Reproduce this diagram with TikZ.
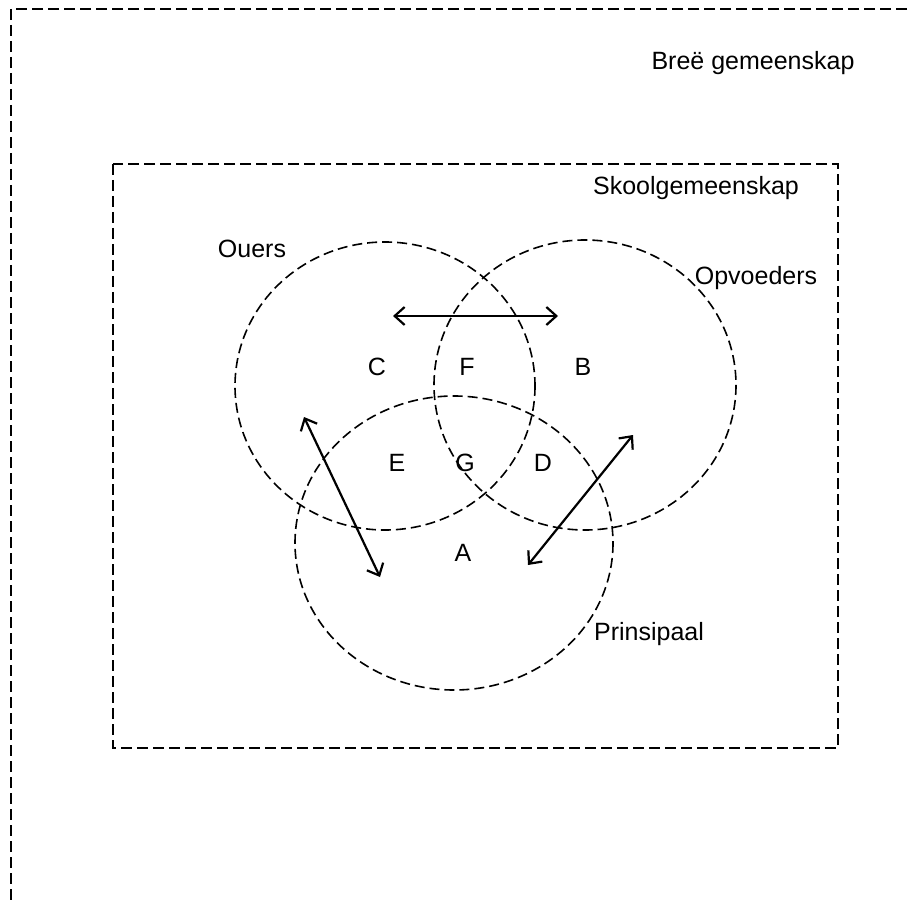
\documentclass[tikz,border=0pt]{standalone}
\usepackage{fontspec}
\setmainfont{Liberation Sans}
\usetikzlibrary{arrows.meta}
\begin{document}
\begin{tikzpicture}[x=1pt,y=-1pt,
  dashbox/.style={draw=black,line width=1.9pt,dash pattern=on 11pt off 5pt},
  venn/.style={draw=black,line width=1.6pt,dash pattern=on 10pt off 5pt},
  lbl/.style={font=\fontsize{25}{30}\selectfont,inner sep=0pt},
  link/.style={line width=2.2pt,{Straight Barb[length=10pt,width=18pt,line width=2.2pt]}-{Straight Barb[length=10pt,width=18pt,line width=2.2pt]}}]
\useasboundingbox (0,0) rectangle (910,901);
\fill[white] (0,0) rectangle (910,901);
% outer box (only top and left edges visible)
\begin{scope}
\clip (0,0) rectangle (910,901);
\draw[dashbox] (11,9) rectangle (930,930);
\end{scope}
% inner box
\draw[dashbox] (113,164) rectangle (838,748);
% circles
\draw[venn] (385,386) ellipse [x radius=150, y radius=144];
\draw[venn] (585,385) ellipse [x radius=151, y radius=145];
\draw[venn] (454,543) ellipse [x radius=159, y radius=147];
% labels
\node[lbl] (bree) at (753,63) {Breë gemeenskap};
\node[lbl] (skool) at (696,188) {Skoolgemeenskap};
\node[lbl] (ouers) at (252,249) {Ouers};
\node[lbl] (opv) at (756,278) {Opvoeders};
\node[lbl] (prin) at (649,634) {Prinsipaal};
\node[lbl] (C) at (377,367) {C};
\node[lbl] (F) at (467,367) {F};
\node[lbl] (B) at (583,367) {B};
\node[lbl] (E) at (397,463) {E};
\node[lbl] (G) at (465,463) {G};
\node[lbl] (D) at (543,463) {D};
\node[lbl] (A) at (463,553) {A};
% arrows
\coordinate (h1) at (393,316);
\coordinate (h2) at (558,316);
\coordinate (l1) at (304,417);
\coordinate (l2) at (380,577);
\coordinate (r1) at (633,435);
\coordinate (r2) at (528,565);
\draw[link] (h1) -- (h2);
\draw[link] (l1) -- (l2);
\draw[link] (r1) -- (r2);
\end{tikzpicture}
\end{document}
